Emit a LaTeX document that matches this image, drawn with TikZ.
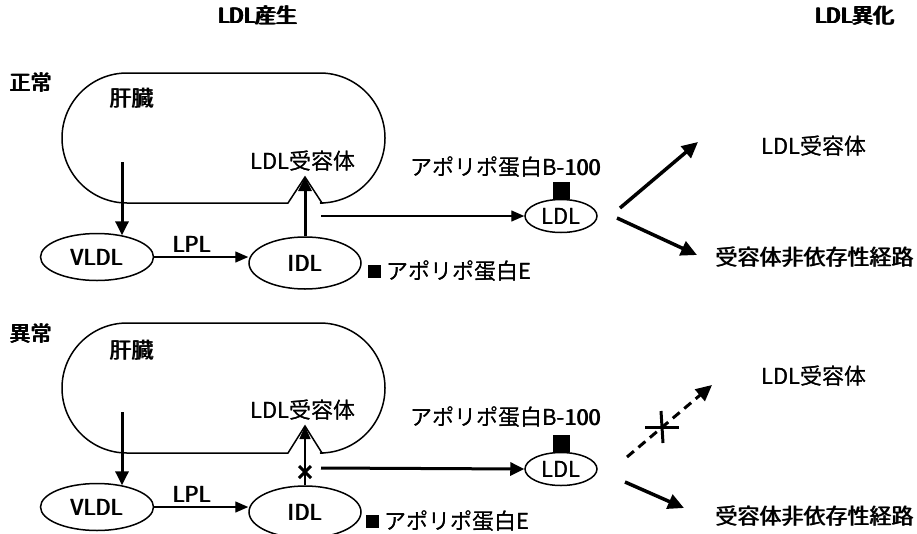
\documentclass[tikz,border=0pt]{standalone}
\usepackage{fontspec}
\setmainfont{Noto Sans CJK JP}
\usetikzlibrary{arrows.meta,shapes.geometric,calc}
\newcommand\mw[1]{\rlap{#1}\kern0.6pt #1}
\newcommand\hb[1]{\rlap{#1}\kern0.6pt\rlap{#1}\kern0.6pt\rlap{#1}\kern0.6pt #1}
\begin{document}
\begin{tikzpicture}[x=1pt,y=-1pt,
  every node/.style={font=\fontsize{22}{26}\selectfont, inner sep=0pt},
  hdr/.style={font=\fontsize{21}{26}\selectfont},
  lip/.style={ellipse, draw, line width=1.5pt, minimum width=113pt, minimum height=47pt},
  lipi/.style={ellipse, draw, line width=1.5pt, minimum width=112pt, minimum height=52pt},
  lips/.style={ellipse, draw, line width=1.5pt, minimum width=72pt, minimum height=33pt},
  liverline/.style={line width=1.5pt, line join=miter},
  thinar/.style={line width=1.4pt, -{Triangle[length=13pt,width=11pt]}},
  thickar/.style={line width=3pt, -{Triangle[length=14pt,width=13pt]}},
  bigar/.style={line width=3.5pt, -{Triangle[length=16pt,width=15pt]}},
  apo/.style={fill=black, draw=none, minimum size=13pt},
  apob/.style={fill=black, draw=none, minimum width=17pt, minimum height=17pt, anchor=south},
]
\useasboundingbox (0,0) rectangle (917,533);

% headers
\node[hdr] (h1) at (258,16) {\hb{LDL産生}};
\node[hdr] (h2) at (855,16) {\hb{LDL異化}};

%================ top panel (normal)
\node[hdr] (n1) at (31,83) {\hb{正常}};
\draw[liverline] (288,203) -- (127,203) arc[start angle=90,end angle=270,radius=65]
  -- (320,73) arc[start angle=-90,end angle=90,radius=65] -- (322,203) -- (305,177) -- cycle;
\coordinate (apx1) at (305,177);
\node (lv1) at (132,98) {\mw{肝臓}};
\node (lr1) at (303,161) {\mw{LDL受容体}};

\node[lip] (vldl1) at (97,257) {\mw{VLDL}};
\node[lipi] (idl1) at (305,263) {\mw{IDL}};
\node (lpl1) at (192,244) {\mw{LPL}};
\draw[thinar] (vldl1.east) -- (vldl1.east -| idl1.west);
\coordinate (v1s) at (122,162);
\draw[thickar] (v1s) -- (v1s |- vldl1.40);
\draw[thickar] (idl1.north) -- (apx1);

\node[lips] (ldl1) at (561,216) {\mw{LDL}};
\node[apob] (sqb1) at (ldl1.north) {};
\node (b1) at (506,167) {\mw{アポリポ蛋白B-100}};
\coordinate (s1) at (321,216);
\draw[thinar] (s1) -- (ldl1.west);

\node[apo] (sqe1) at (374,271) {};
\node[anchor=west] (e1) at (386,271) {\mw{アポリポ蛋白E}};

\coordinate (ra1) at (620,208);
\coordinate (ra1e) at (698,142);
\coordinate (rb1) at (617,218);
\coordinate (rb1e) at (697,255);
\draw[bigar] (ra1) -- (ra1e);
\draw[bigar] (rb1) -- (rb1e);
\node (rr1) at (814,146) {\mw{LDL受容体}};
\node (ri1) at (815,257) {\mw{受容体非依存性経路}};

%================ bottom panel (abnormal)
\node[hdr] (n2) at (31,334) {\hb{異常}};
\draw[liverline] (288,453) -- (127,453) arc[start angle=90,end angle=270,radius=65]
  -- (320,323) arc[start angle=-90,end angle=90,radius=65] -- (322,453) -- (305,426) -- cycle;
\coordinate (apx2) at (305,426);
\node (lv2) at (132,350) {\mw{肝臓}};
\node (lr2) at (303,410) {\mw{LDL受容体}};

\node[lip] (vldl2) at (97,507) {\mw{VLDL}};
\node[lipi] (idl2) at (305,512) {\mw{IDL}};
\node (lpl2) at (192,494) {\mw{LPL}};
\draw[thinar] (vldl2.east) -- (vldl2.east -| idl2.west);
\coordinate (v2s) at (122,412);
\draw[thickar] (v2s) -- (v2s |- vldl2.40);
\draw[thinar, line width=1.2pt] (idl2.north) -- (apx2);
\coordinate (x2) at (305,472);
\draw[line width=3pt] ($(x2)+(-6,-6)$) -- ($(x2)+(6,6)$);
\draw[line width=3pt] ($(x2)+(-6,6)$) -- ($(x2)+(6,-6)$);

\node[lips] (ldl2) at (561,469) {\mw{LDL}};
\node[apob] (sqb2) at (ldl2.north) {};
\node (b2) at (506,417) {\mw{アポリポ蛋白B-100}};
\coordinate (s2) at (321,468);
\draw[thickar] (s2) -- (ldl2.west);

\node[apo] (sqe2) at (372,521) {};
\node[anchor=west] (e2) at (384,521) {\mw{アポリポ蛋白E}};

\coordinate (ra2) at (627,457);
\coordinate (ra2e) at (712,385);
\coordinate (rb2) at (625,482);
\coordinate (rb2e) at (684,508);
\draw[bigar, line width=3pt, dash pattern=on 9pt off 6pt] (ra2) -- (ra2e);
\coordinate (p2) at (662,427);
\draw[line width=3pt] ($(p2)+(-17,0)$) -- ($(p2)+(17,0)$);
\draw[line width=3pt] ($(p2)+(-1,-16)$) -- ($(p2)+(1,16)$);
\draw[bigar] (rb2) -- (rb2e);
\node (rr2) at (814,376) {\mw{LDL受容体}};
\node (ri2) at (815,516) {\mw{受容体非依存性経路}};
\end{tikzpicture}
\end{document}
